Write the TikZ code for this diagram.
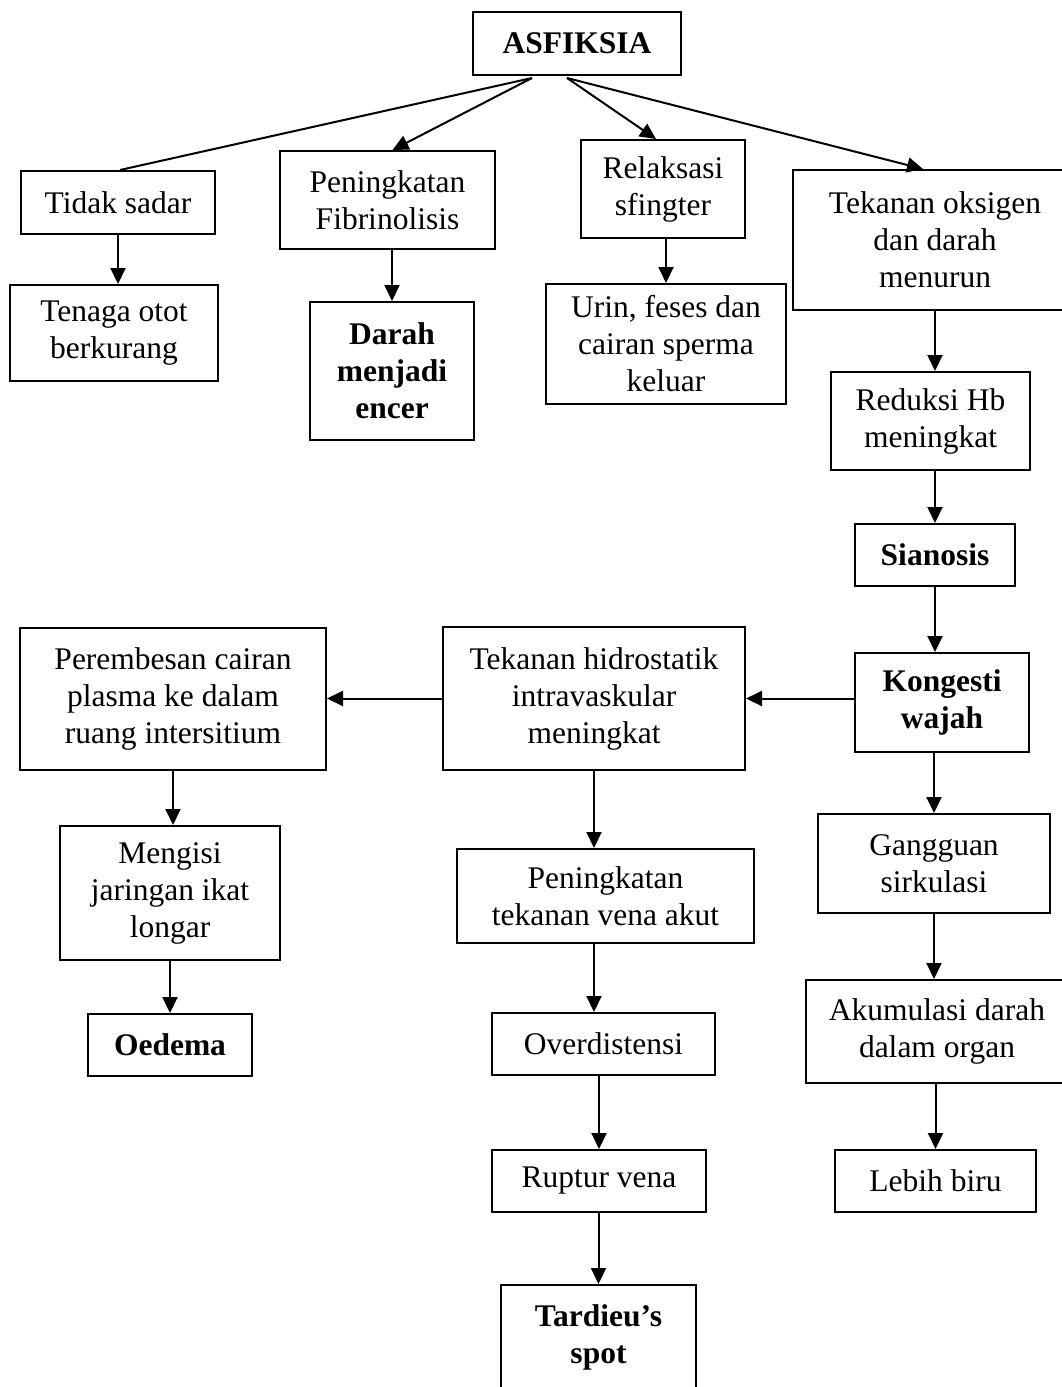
\documentclass[tikz,border=0pt]{standalone}
\usepackage{fontspec}
\setmainfont{Liberation Serif}
\usetikzlibrary{arrows.meta,calc}
\begin{document}
\begin{tikzpicture}[x=1pt,y=-1pt,
  box/.style={draw=black,line width=2pt,rectangle,inner sep=0pt,align=center,
    font=\fontsize{31.5}{37}\selectfont},
  bbox/.style={box,font=\fontsize{31.5}{37}\selectfont\bfseries},
  arr/.style={line width=2pt,-{Triangle[length=16pt,width=15pt]}},
  plain/.style={line width=2pt}]
\useasboundingbox (0,0) rectangle (1062,1387);
\fill[white] (0,0) rectangle (1062,1387);
% nodes
\node[bbox,minimum width=208pt,minimum height=63pt] (asf) at (577,43.5) {ASFIKSIA};
\node[box,minimum width=194pt,minimum height=63pt] (tidak) at (118,202.5) {Tidak sadar};
\node[box,minimum width=208pt,minimum height=96pt] (tenaga) at (114,333) {Tenaga otot\\berkurang};
\node[box,minimum width=215pt,minimum height=98pt] (fibr) at (387.5,200) {Peningkatan\\Fibrinolisis};
\node[bbox,minimum width=164pt,minimum height=138pt] (darah) at (392,371) {Darah\\menjadi\\encer};
\node[box,minimum width=164pt,minimum height=98pt] (relak) at (663,189) {Relaksasi\\sfingter};
\node[box,minimum width=240pt,minimum height=120pt] (urin) at (666,344) {Urin, feses dan\\cairan sperma\\keluar};
\node[box,minimum width=284pt,minimum height=140pt] (oks) at (935,240) {Tekanan oksigen\\dan darah\\menurun};
\node[box,minimum width=199pt,minimum height=98pt] (reduksi) at (930.5,421) {Reduksi Hb\\meningkat};
\node[bbox,minimum width=160pt,minimum height=62pt] (sianosis) at (935,555) {Sianosis};
\node[bbox,minimum width=174pt,minimum height=99pt] (kongesti) at (942,702.5) {Kongesti\\wajah};
\node[box,minimum width=302pt,minimum height=143pt] (hidro) at (594,698.5) {Tekanan hidrostatik\\intravaskular\\meningkat};
\node[box,minimum width=306pt,minimum height=142pt] (perem) at (173,699) {Perembesan cairan\\plasma ke dalam\\ruang intersitium};
\node[box,minimum width=220pt,minimum height=134pt] (mengisi) at (170,893) {Mengisi\\jaringan ikat\\longar};
\node[bbox,minimum width=164pt,minimum height=62pt] (oedema) at (170,1045) {Oedema};
\node[box,minimum width=297pt,minimum height=94pt] (vena) at (605.5,896) {Peningkatan\\tekanan vena akut};
\node[box,minimum width=223pt,minimum height=62pt] (overd) at (603.5,1044) {Overdistensi};
\node[box,minimum width=214pt,minimum height=62pt] (ruptur) at (599,1181) {Ruptur vena};
\node[bbox,minimum width=195pt,minimum height=105pt] (tardieu) at (598.5,1337.5) {Tardieu’s\\spot};
\node[box,minimum width=232pt,minimum height=99pt] (gangguan) at (934,863.5) {Gangguan\\sirkulasi};
\node[box,minimum width=262pt,minimum height=103pt] (akum) at (937,1031.5) {Akumulasi darah\\dalam organ};
\node[box,minimum width=201pt,minimum height=62pt] (biru) at (935.5,1181) {Lebih biru};
% connectors from ASFIKSIA
\coordinate (asfL) at ($(asf.south)+(-45,2)$);
\coordinate (asfR) at ($(asf.south)+(-10,2)$);
\draw[plain] (asfL) -- ($(tidak.north)+(2,0)$);
\draw[arr] (asfL) -- ($(fibr.north)+(5,0)$);
\draw[arr] (asfR) -- ($(relak.north)+(-7,0)$);
\draw[arr] (asfR) -- ($(oks.north)+(-12,0)$);
% vertical chains
\draw[arr] (tidak.south) -- (tidak.south |- tenaga.north);
\draw[arr] (darah.north |- fibr.south) -- (darah.north);
\draw[arr] (urin.north |- relak.south) -- (urin.north);
\draw[arr] (oks.south) -- (oks.south |- reduksi.north);
\draw[arr] (sianosis.north |- reduksi.south) -- (sianosis.north);
\draw[arr] (sianosis.south) -- (sianosis.south |- kongesti.north);
\draw[arr] (kongesti.west |- hidro.east) -- (hidro.east);
\draw[arr] (hidro.west) -- (perem.east |- hidro.west);
\draw[arr] (perem.south) -- (perem.south |- mengisi.north);
\draw[arr] (mengisi.south) -- (oedema.north);
\draw[arr] (hidro.south) -- (hidro.south |- vena.north);
\draw[arr] (vena.south -| hidro.south) -- (hidro.south |- overd.north);
\draw[arr] (ruptur.north |- overd.south) -- (ruptur.north);
\draw[arr] (tardieu.north |- ruptur.south) -- (tardieu.north);
\draw[arr] (gangguan.north |- kongesti.south) -- (gangguan.north);
\draw[arr] (gangguan.south) -- (gangguan.south |- akum.north);
\draw[arr] (biru.north |- akum.south) -- (biru.north);
\end{tikzpicture}
\end{document}
